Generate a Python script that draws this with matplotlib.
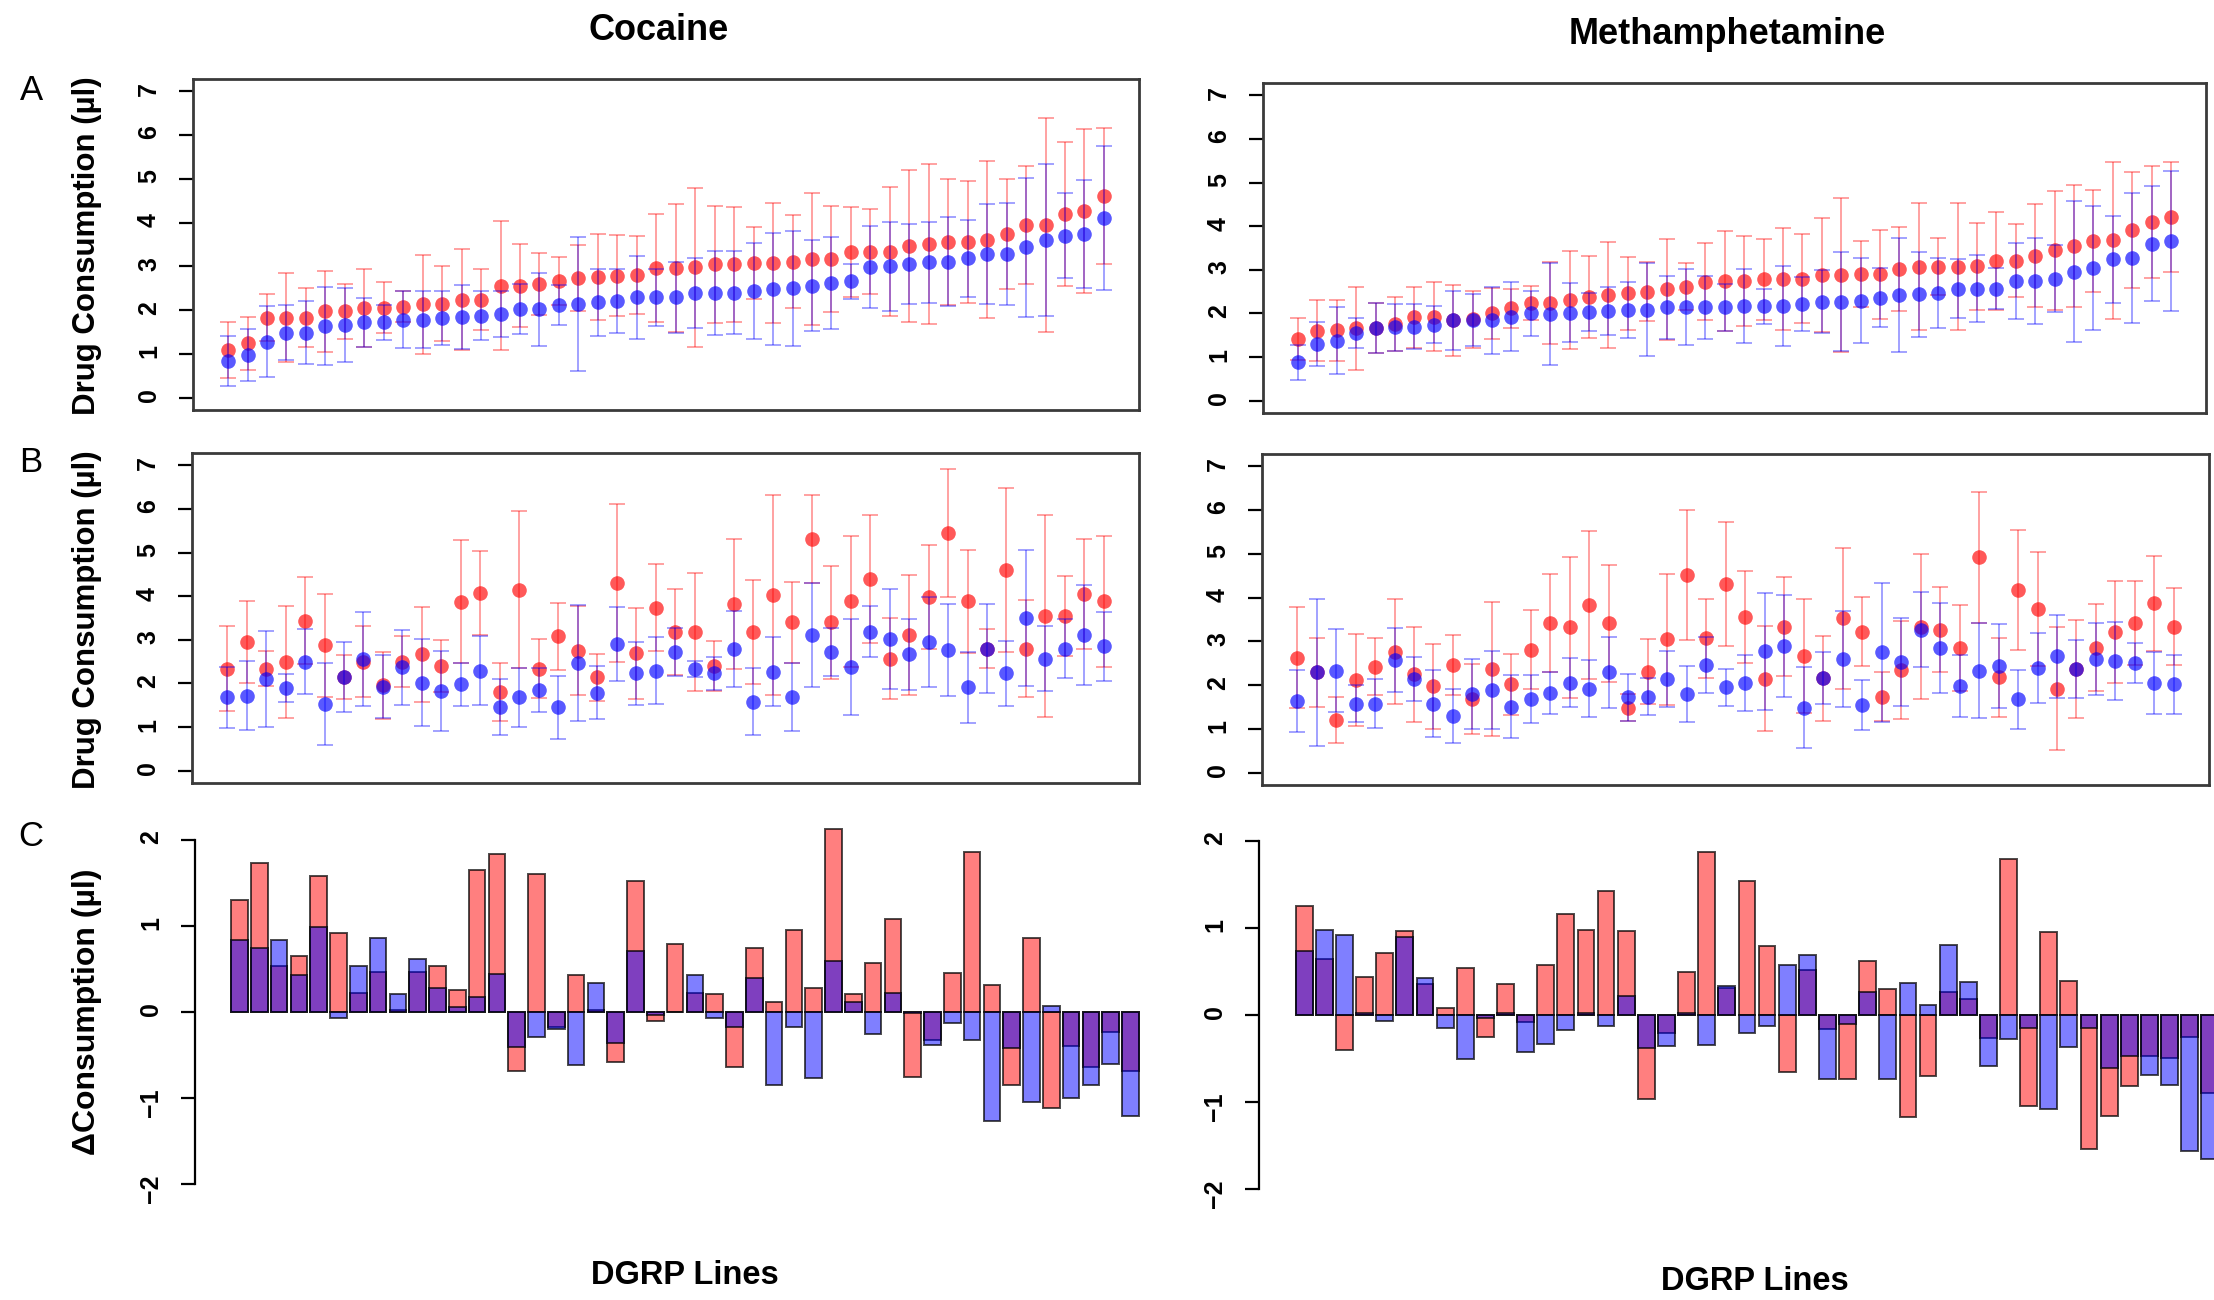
import matplotlib.pyplot as plt
import numpy as np

plt.rcParams['font.family'] = ['Liberation Sans', 'DejaVu Sans']

W, H = 2214, 1300

# ---- A: consumption per DGRP line, sorted (cocaine / methamphetamine)
coc_a_red = [1.08, 1.24, 1.83, 1.83, 1.83, 1.97, 1.97, 2.04, 2.06, 2.08, 2.14, 2.15, 2.24, 2.24, 2.56, 2.56,
             2.60, 2.67, 2.73, 2.75, 2.79, 2.80, 2.96, 2.96, 2.98, 3.05, 3.05, 3.08, 3.08, 3.11, 3.17, 3.17,
             3.32, 3.34, 3.34, 3.47, 3.51, 3.56, 3.56, 3.61, 3.74, 3.95, 3.95, 4.20, 4.27, 4.60]
coc_a_red_err = [0.64, 0.61, 0.53, 1.01, 0.67, 0.92, 0.63, 0.89, 0.58, 0.36, 1.13, 0.85, 1.15, 0.70, 1.47, 0.95,
                 0.70, 0.55, 0.75, 0.98, 0.92, 0.89, 1.23, 1.46, 1.82, 1.34, 1.31, 0.83, 1.37, 1.06, 1.50, 1.21,
                 1.03, 0.96, 1.48, 1.73, 1.82, 1.44, 1.39, 1.79, 1.26, 1.35, 2.44, 1.65, 1.87, 1.55]
coc_a_blue = [0.84, 0.97, 1.28, 1.49, 1.49, 1.63, 1.66, 1.72, 1.72, 1.78, 1.78, 1.82, 1.85, 1.87, 1.91, 2.02,
              2.02, 2.11, 2.14, 2.18, 2.21, 2.29, 2.29, 2.29, 2.40, 2.40, 2.40, 2.44, 2.48, 2.50, 2.56, 2.62,
              2.66, 2.98, 3.00, 3.05, 3.09, 3.11, 3.19, 3.28, 3.28, 3.44, 3.61, 3.70, 3.74, 4.10]
coc_a_blue_err = [0.58, 0.59, 0.81, 0.63, 0.73, 0.89, 0.84, 0.55, 0.39, 0.65, 0.65, 0.61, 0.73, 0.56, 0.52, 0.57,
                  0.83, 0.46, 1.52, 0.77, 0.74, 0.95, 0.65, 0.82, 0.80, 0.96, 0.95, 1.10, 1.28, 1.31, 1.04, 1.04,
                  0.40, 0.94, 1.01, 0.92, 0.92, 1.01, 0.88, 1.14, 1.17, 1.59, 1.74, 0.97, 1.24, 1.64]

meth_a_red = [1.41, 1.61, 1.62, 1.66, 1.66, 1.76, 1.91, 1.93, 1.84, 1.87, 2.00, 2.12, 2.23, 2.23, 2.31, 2.38,
              2.42, 2.46, 2.50, 2.55, 2.61, 2.73, 2.75, 2.75, 2.78, 2.79, 2.80, 2.88, 2.88, 2.90, 2.90, 3.02,
              3.07, 3.07, 3.07, 3.08, 3.21, 3.21, 3.32, 3.45, 3.55, 3.66, 3.68, 3.91, 4.10, 4.21]
meth_a_red_err = [0.48, 0.69, 0.70, 0.95, 0.57, 0.61, 0.70, 0.80, 0.82, 0.65, 0.58, 0.45, 0.39, 0.94, 1.13, 0.94,
                  1.21, 0.83, 0.67, 1.16, 0.54, 0.89, 1.15, 1.03, 0.93, 1.17, 1.01, 1.31, 1.77, 0.75, 1.02, 0.97,
                  1.45, 0.65, 1.45, 1.00, 1.12, 0.84, 1.18, 1.36, 1.40, 1.16, 1.80, 1.32, 1.29, 1.27]
meth_a_blue = [0.88, 1.30, 1.38, 1.55, 1.66, 1.68, 1.70, 1.74, 1.84, 1.85, 1.84, 1.93, 2.00, 1.99, 2.02, 2.04,
               2.06, 2.08, 2.09, 2.14, 2.14, 2.14, 2.14, 2.17, 2.17, 2.17, 2.21, 2.27, 2.27, 2.29, 2.36, 2.42,
               2.44, 2.46, 2.57, 2.57, 2.57, 2.75, 2.75, 2.80, 2.96, 3.05, 3.24, 3.27, 3.60, 3.66]
meth_a_blue_err = [0.40, 0.50, 0.76, 0.34, 0.57, 0.53, 0.52, 0.42, 0.68, 0.60, 0.76, 0.79, 0.52, 1.16, 0.68, 0.44,
                   0.55, 0.64, 1.07, 0.73, 0.87, 0.73, 0.53, 0.85, 0.40, 0.91, 0.62, 0.72, 1.14, 0.97, 0.68, 1.31,
                   0.97, 0.80, 0.68, 0.77, 0.47, 0.87, 0.99, 0.77, 1.61, 1.42, 0.99, 1.49, 1.31, 1.60]

# ---- B: second measurement, same line order
coc_b_red = [2.34, 2.95, 2.34, 2.50, 3.44, 2.88, 2.15, 2.50, 1.96, 2.50, 2.67, 2.40, 3.87, 4.07, 1.81, 4.15,
             2.34, 3.08, 2.75, 2.14, 4.30, 2.69, 3.74, 3.18, 3.18, 2.40, 3.82, 3.18, 4.03, 3.40, 5.31, 3.40,
             3.88, 4.40, 2.57, 3.11, 3.98, 5.44, 3.88, 2.80, 4.60, 2.80, 3.55, 3.55, 4.05, 3.88]
coc_b_red_err = [0.98, 0.95, 0.40, 1.28, 1.00, 1.18, 0.50, 0.82, 0.77, 0.58, 1.09, 0.59, 1.41, 0.97, 0.67, 1.79,
                 0.67, 0.76, 1.02, 0.53, 1.81, 1.04, 1.00, 0.98, 1.35, 0.58, 1.49, 1.19, 2.29, 0.93, 1.00, 1.30,
                 1.51, 1.47, 0.93, 1.37, 1.20, 1.47, 1.18, 0.45, 1.87, 1.11, 2.32, 0.92, 1.25, 1.51]
coc_b_blue = [1.68, 1.72, 2.11, 1.89, 2.50, 1.53, 2.15, 2.56, 1.93, 2.37, 2.02, 1.83, 1.98, 2.29, 1.47, 1.68,
              1.85, 1.45, 2.47, 1.79, 2.90, 2.23, 2.29, 2.71, 2.33, 2.23, 2.79, 1.58, 2.27, 1.68, 3.11, 2.73,
              2.38, 3.19, 3.02, 2.67, 2.94, 2.77, 1.91, 2.80, 2.23, 3.50, 2.57, 2.80, 3.11, 2.85]
coc_b_blue_err = [0.69, 0.79, 1.10, 0.32, 0.75, 0.93, 0.80, 1.07, 0.72, 0.86, 1.00, 0.92, 0.50, 0.79, 0.64, 0.68,
                  0.50, 0.72, 1.33, 0.61, 0.85, 0.73, 0.77, 0.55, 0.19, 0.38, 0.88, 0.77, 0.79, 0.78, 1.19, 0.55,
                  1.10, 0.59, 1.14, 0.81, 1.03, 1.06, 0.81, 1.01, 0.74, 1.56, 0.74, 0.67, 1.15, 0.79]

meth_b_red = [2.63, 2.29, 1.20, 2.12, 2.42, 2.76, 2.25, 1.97, 2.46, 1.68, 2.37, 2.02, 2.81, 3.42, 3.32, 3.82,
              3.41, 1.49, 2.31, 3.05, 4.52, 3.07, 4.31, 3.56, 2.15, 3.34, 2.66, 2.16, 3.53, 3.22, 1.74, 2.34,
              3.34, 3.27, 2.85, 4.92, 2.18, 4.18, 3.74, 1.92, 2.37, 2.86, 3.22, 3.42, 3.87, 3.34]
meth_b_red_err = [1.15, 0.79, 0.53, 1.05, 0.65, 1.20, 1.08, 0.98, 0.69, 0.80, 1.52, 0.70, 0.90, 1.13, 1.61, 1.69,
                  1.34, 0.30, 0.75, 1.50, 1.48, 0.90, 1.41, 1.05, 1.20, 1.12, 1.30, 0.97, 1.61, 0.79, 0.56, 1.12,
                  1.65, 0.98, 0.99, 1.49, 0.90, 1.37, 1.30, 1.40, 1.13, 1.00, 1.17, 0.97, 1.08, 0.88]
meth_b_blue = [1.64, 2.29, 2.33, 1.58, 1.58, 2.57, 2.14, 1.58, 1.30, 1.79, 1.89, 1.51, 1.68, 1.82, 2.06, 1.92,
               2.29, 1.72, 1.74, 2.15, 1.79, 2.46, 1.95, 2.06, 2.77, 2.89, 1.49, 2.16, 2.60, 1.54, 2.75, 2.53,
               3.27, 2.85, 1.98, 2.33, 2.44, 1.68, 2.39, 2.66, 2.37, 2.60, 2.56, 2.50, 2.05, 2.02]
meth_b_blue_err = [0.71, 1.67, 0.95, 0.42, 0.55, 0.73, 0.51, 0.77, 0.62, 0.80, 0.89, 0.72, 0.55, 0.47, 0.55, 0.65,
                   0.81, 0.54, 0.42, 0.64, 0.64, 0.64, 0.42, 0.64, 1.34, 1.16, 0.92, 0.59, 1.09, 0.57, 1.58, 1.01,
                   0.86, 1.02, 0.71, 1.09, 0.95, 0.67, 0.80, 0.95, 0.67, 0.83, 0.89, 0.46, 0.71, 0.67]

# ---- C: change in consumption
coc_c_red = [1.30, 1.73, 0.53, 0.65, 1.58, 0.92, 0.22, 0.46, 0.02, 0.46, 0.53, 0.25, 1.65, 1.83, -0.69, 1.60,
             -0.17, 0.43, 0.02, -0.58, 1.52, -0.10, 0.79, 0.22, 0.21, -0.64, 0.74, 0.12, 0.95, 0.28, 2.12, 0.21,
             0.57, 1.08, -0.75, -0.33, 0.45, 1.86, 0.31, -0.85, 0.86, -1.12, -0.40, -0.64, -0.23, -0.69]
coc_c_blue = [0.84, 0.74, 0.84, 0.43, 0.99, -0.07, 0.53, 0.86, 0.21, 0.61, 0.28, 0.06, 0.18, 0.44, -0.41, -0.29,
              -0.20, -0.61, 0.34, -0.36, 0.71, -0.03, 0.00, 0.43, -0.07, -0.17, 0.40, -0.85, -0.17, -0.77, 0.59, 0.12,
              -0.25, 0.22, -0.01, -0.38, -0.13, -0.32, -1.26, -0.42, -1.04, 0.07, -1.00, -0.85, -0.60, -1.21]
meth_c_red = [1.25, 0.64, -0.40, 0.44, 0.71, 0.96, 0.36, 0.08, 0.54, -0.25, 0.36, -0.08, 0.57, 1.16, 0.98, 1.43,
              0.96, -0.97, -0.21, 0.49, 1.87, 0.31, 1.54, 0.79, -0.66, 0.52, -0.16, -0.74, 0.62, 0.30, -1.17, -0.70,
              0.27, 0.18, -0.26, 1.79, -1.04, 0.95, 0.39, -1.54, -1.16, -0.81, -0.47, -0.49, -0.25, -0.90]
meth_c_blue = [0.74, 0.98, 0.92, 0.02, -0.07, 0.90, 0.42, -0.15, -0.50, -0.03, 0.02, -0.43, -0.33, -0.17, 0.02, -0.13,
               0.22, -0.38, -0.36, 0.02, -0.34, 0.33, -0.21, -0.13, 0.57, 0.69, -0.74, -0.10, 0.27, -0.74, 0.37, 0.12,
               0.80, 0.38, -0.59, -0.27, -0.15, -1.08, -0.37, -0.15, -0.61, -0.47, -0.69, -0.80, -1.56, -1.66]

dot_ticks = [0, 1, 2, 3, 4, 5, 6, 7]
bar_ticks = [-2, -1, 0, 1, 2]

fig = plt.figure(figsize=(W / 100, H / 100), dpi=100)


def px_axes(x0, y0, x1, y1):
    # axes placed by pixel box (top-left origin)
    return fig.add_axes([x0 / W, 1 - y1 / H, (x1 - x0) / W, (y1 - y0) / H])


def dot_panel(ax, red, red_err, blue, blue_err):
    x = np.arange(1, len(red) + 1)
    ax.errorbar(x, red, yerr=red_err, fmt='none', ecolor=(1, 0, 0, 0.4), elinewidth=1.3, capsize=6, capthick=1.3)
    ax.plot(x, red, 'o', color=(1, 0, 0, 0.65), ms=10.5, mec='none')
    ax.errorbar(x, blue, yerr=blue_err, fmt='none', ecolor=(0, 0, 1, 0.4), elinewidth=1.3, capsize=6, capthick=1.3)
    ax.plot(x, blue, 'o', color=(0, 0, 1, 0.65), ms=10.5, mec='none')
    ax.set_xlim(-0.8, 47.8)
    ax.set_ylim(-0.28, 7.28)
    ax.set_xticks([])
    ax.set_yticks(dot_ticks, labels=[str(t) for t in dot_ticks], fontweight='bold')
    for s in ax.spines.values():
        s.set_color('#3a3a3a')
        s.set_linewidth(2)
    ax.tick_params(axis='y', length=10, width=1.6, labelsize=18, pad=13, labelrotation=90)


def bar_panel(ax, red, blue):
    x = 0.7 + 1.2 * np.arange(len(red))
    ax.bar(x, red, width=1, color=(1, 0, 0, 0.5), edgecolor=(0, 0, 0, 0.7), linewidth=1.4)
    ax.bar(x, blue, width=1, color=(0, 0, 1, 0.5), edgecolor=(0, 0, 0, 0.7), linewidth=1.4)
    ax.set_xlim(-2.0, 57.4)
    ax.set_ylim(-2.16, 2.16)
    ax.set_xticks([])
    ax.set_yticks(bar_ticks, labels=[str(t).replace('-', '\u2212') for t in bar_ticks], fontweight='bold')
    for k in ['top', 'right', 'bottom']:
        ax.spines[k].set_visible(False)
    ax.spines['left'].set_bounds(-2, 2)
    ax.spines['left'].set_linewidth(1.6)
    ax.tick_params(axis='y', length=10, width=1.6, labelsize=18, pad=13, labelrotation=90)


ax = px_axes(193, 79, 1139, 410)
dot_panel(ax, coc_a_red, coc_a_red_err, coc_a_blue, coc_a_blue_err)
ax = px_axes(1263, 83, 2206, 413)
dot_panel(ax, meth_a_red, meth_a_red_err, meth_a_blue, meth_a_blue_err)
ax = px_axes(192, 453, 1139, 783)
dot_panel(ax, coc_b_red, coc_b_red_err, coc_b_blue, coc_b_blue_err)
ax = px_axes(1262, 454, 2209, 785)
dot_panel(ax, meth_b_red, meth_b_red_err, meth_b_blue, meth_b_blue_err)

ax = px_axes(195, 826, 1175, 1198)
bar_panel(ax, coc_c_red, coc_c_blue)
ax = px_axes(1259, 827, 2255, 1203)
bar_panel(ax, meth_c_red, meth_c_blue)

# titles and labels
fig.text(659 / W, 1 - 31 / H, 'Cocaine', ha='center', va='center', fontsize=26, fontweight='bold')
fig.text(1727 / W, 1 - 34 / H, 'Methamphetamine', ha='center', va='center', fontsize=26, fontweight='bold')
for lab, y in [('A', 90), ('B', 463), ('C', 836)]:
    fig.text(31 / W, 1 - y / H, lab, ha='center', va='center', fontsize=25)
fig.text(87 / W, 1 - 246 / H, 'Drug Consumption (µl)', ha='center', va='center', rotation=90,
         fontsize=22.5, fontweight='bold')
fig.text(87 / W, 1 - 620 / H, 'Drug Consumption (µl)', ha='center', va='center', rotation=90,
         fontsize=22.5, fontweight='bold')
fig.text(87 / W, 1 - 1012 / H, 'ΔConsumption (µl)', ha='center', va='center', rotation=90,
         fontsize=23, fontweight='bold')
fig.text(685 / W, 1 - 1275 / H, 'DGRP Lines', ha='center', va='center', fontsize=23.5, fontweight='bold')
fig.text(1755 / W, 1 - 1282 / H, 'DGRP Lines', ha='center', va='center', fontsize=23.5, fontweight='bold')

fig.savefig('out.png', dpi=100)
